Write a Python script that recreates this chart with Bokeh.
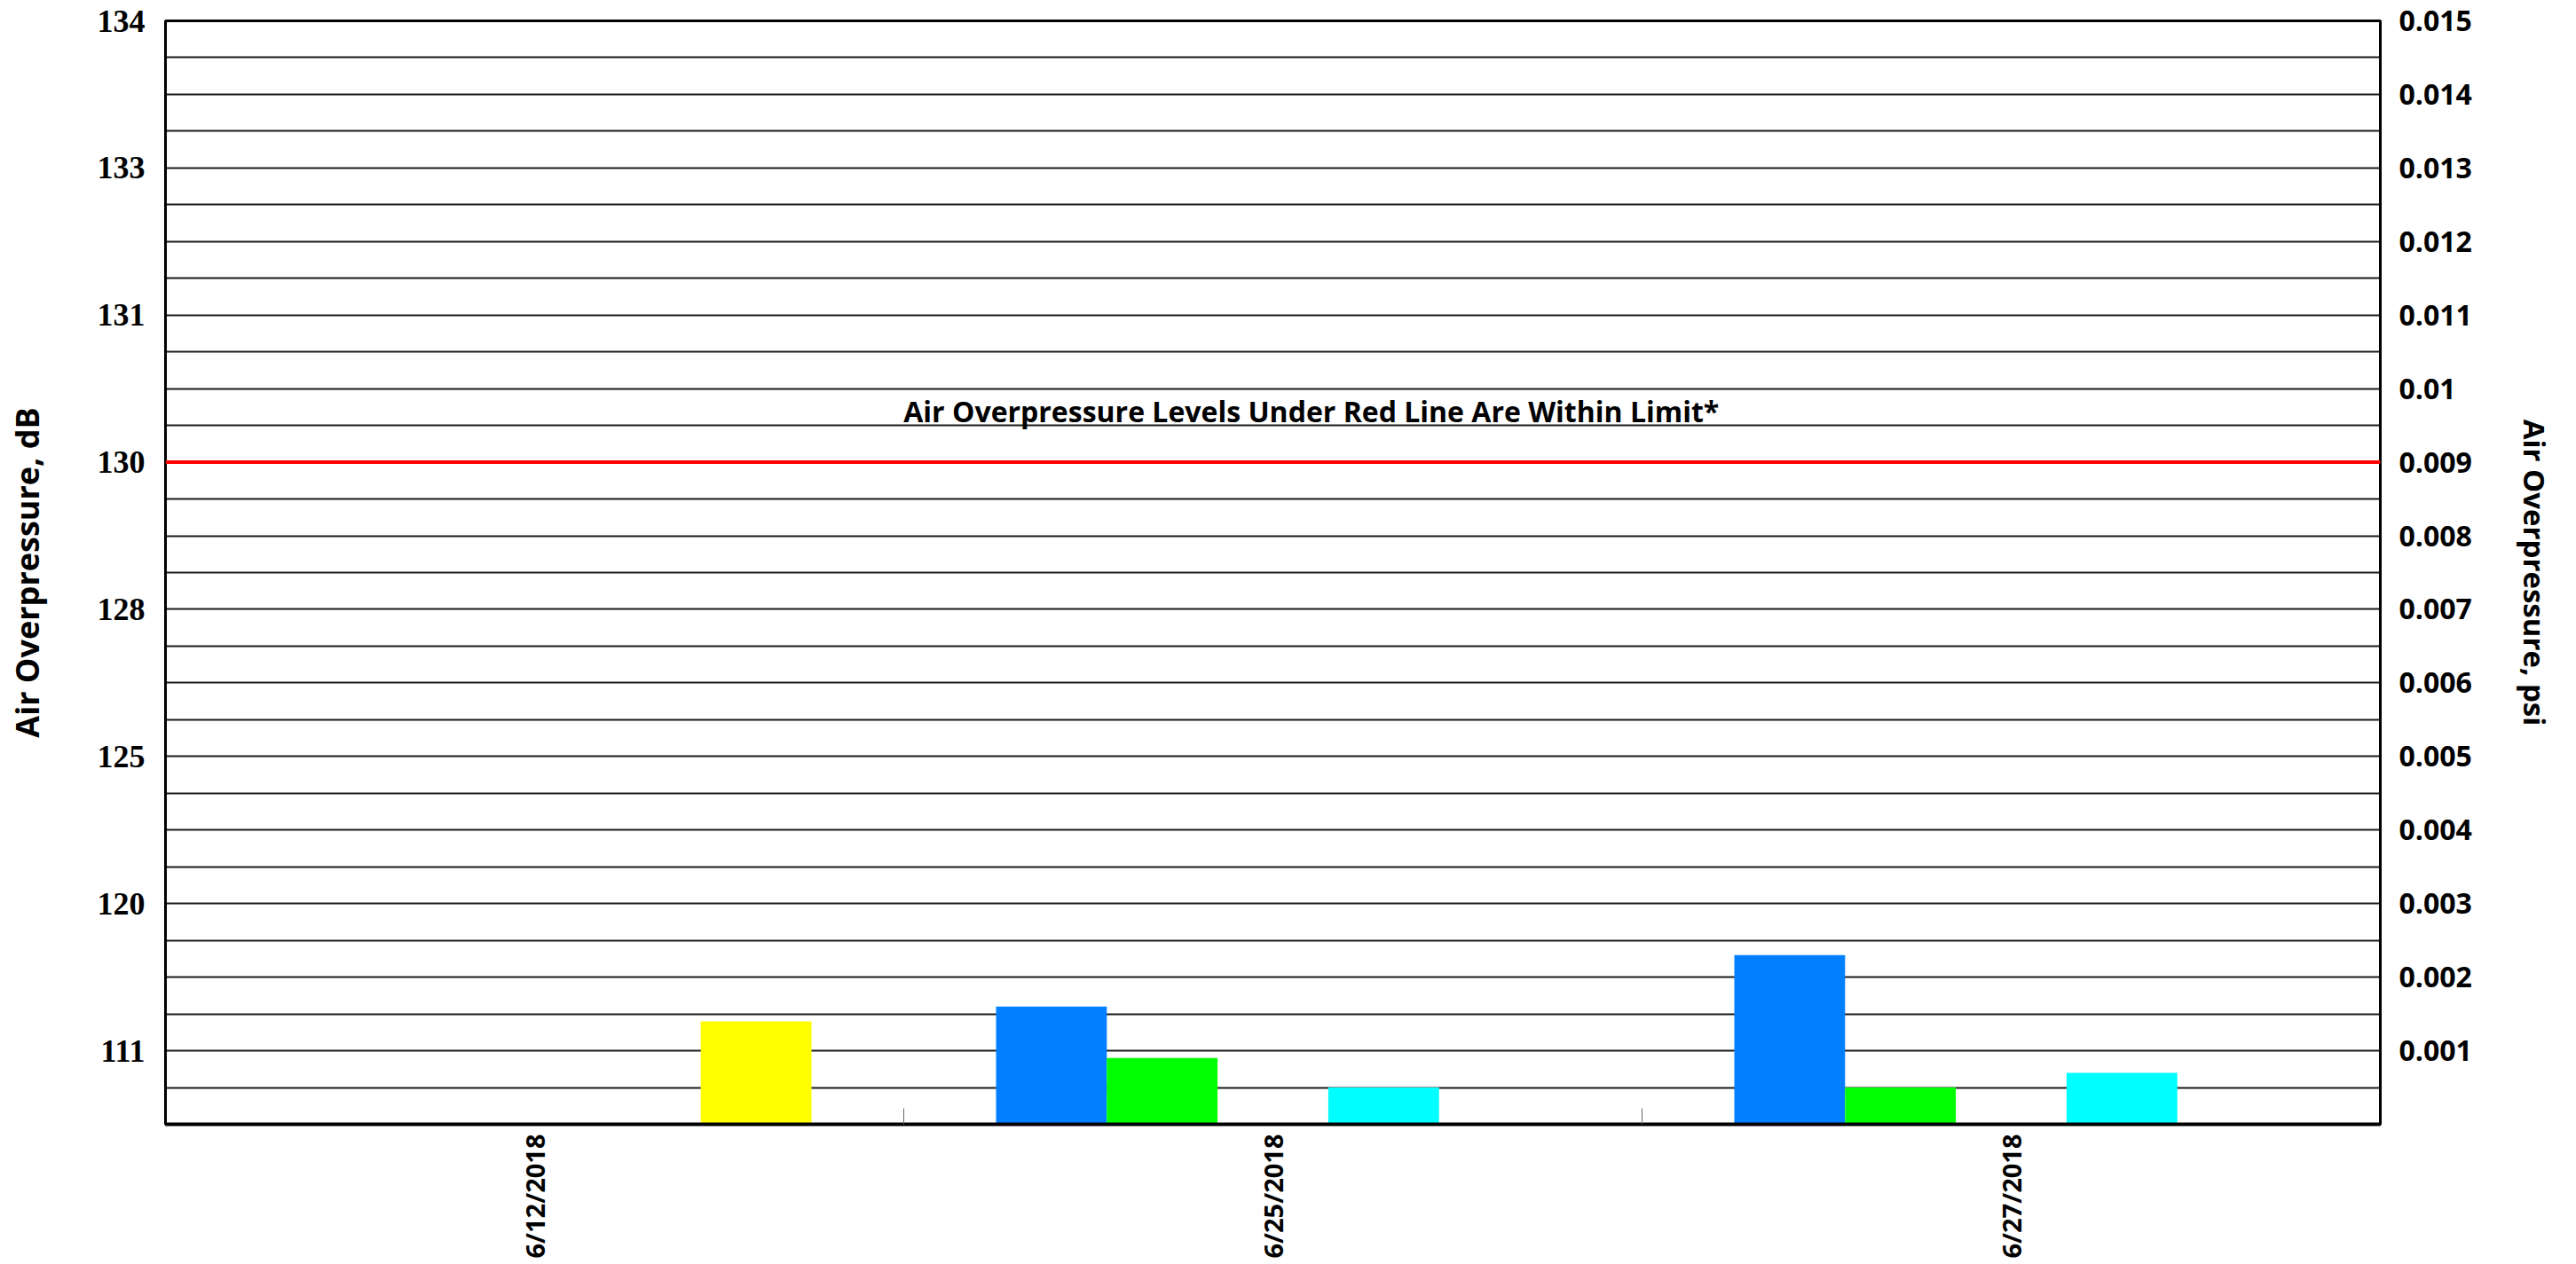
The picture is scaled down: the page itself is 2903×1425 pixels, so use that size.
import math
import numpy as np
from bokeh.plotting import figure
from bokeh.models import ColumnDataSource, Range1d, LinearAxis, FixedTicker, Span, Label
from bokeh.embed import file_html
from bokeh.resources import INLINE

# ---- data (psi) ----
DATES = ["6/12/2018", "6/25/2018", "6/27/2018"]
BLUE_PSI = [None, 0.0016, 0.0023]
GREEN_PSI = [None, 0.0009, 0.0005]
CYAN_PSI = [None, 0.0005, 0.0007]
YELLOW_PSI = [0.0014, None, None]

LIMIT_PSI = 0.009
LIMIT_TEXT = "Air Overpressure Levels Under Red Line Are Within Limit*"

DB_TICK_PSI = [0.001, 0.003, 0.005, 0.007, 0.009, 0.011, 0.013, 0.015]
DB_TICK_LABELS = ["111", "120", "125", "128", "130", "131", "133", "134"]
PSI_TICKS = [0.001, 0.002, 0.003, 0.004, 0.005, 0.006, 0.007, 0.008,
             0.009, 0.010, 0.011, 0.012, 0.013, 0.014, 0.015]
PSI_TICK_LABELS = ["0.001", "0.002", "0.003", "0.004", "0.005", "0.006", "0.007", "0.008",
                   "0.009", "0.01", "0.011", "0.012", "0.013", "0.014", "0.015"]
Y_MAX = 0.015

# ---- layout / style ----
SERIES = [
    (BLUE_PSI, "#007FFF", 0),
    (GREEN_PSI, "#00FF00", 1),
    (CYAN_PSI, "#00FFFF", 3),
    (YELLOW_PSI, "#FFFF00", 4),
]
N_SLOTS = 5
BAR_W = 0.15

p = figure(frame_width=2496, frame_height=1244,
           x_range=Range1d(0, len(DATES)), y_range=Range1d(0, Y_MAX),
           output_backend="svg", toolbar_location=None,
           min_border_left=186, min_border_right=215,
           min_border_top=23, min_border_bottom=150,
           background_fill_color="white", border_fill_color="white")

p.outline_line_color = "black"
p.outline_line_width = 3

for vals, color, slot in SERIES:
    xs, tops = [], []
    for i, v in enumerate(vals):
        if v is not None:
            xs.append(i + 0.5 + (slot - (N_SLOTS - 1) / 2) * BAR_W)
            tops.append(v)
    src = ColumnDataSource(dict(x=xs, top=tops))
    p.vbar(x="x", top="top", bottom=0, width=BAR_W, source=src,
           fill_color=color, line_color=None)

# gridlines every 0.0005 psi
grid_ticks = list(np.round(np.arange(0, Y_MAX + 1e-9, 0.0005), 6))
p.ygrid.ticker = FixedTicker(ticks=grid_ticks)
p.ygrid.grid_line_color = "#1a1a1a"
p.ygrid.grid_line_width = 2
p.xgrid.visible = False

# limit line
p.add_layout(Span(location=LIMIT_PSI, dimension="width", line_color="#FF0000", line_width=4))
p.add_layout(Label(x=1.552, y=0.0097, text=LIMIT_TEXT, text_align="center",
                   text_baseline="middle", text_font="Open Sans",
                   text_font_style="bold", text_font_size="32px", text_color="black"))

# left axis (dB labels)
la = p.yaxis[0]
la.ticker = FixedTicker(ticks=DB_TICK_PSI)
la.major_label_overrides = {k: v for k, v in zip(DB_TICK_PSI, DB_TICK_LABELS)}
la.major_tick_line_color = None
la.minor_tick_line_color = None
la.major_tick_out = 0
la.major_tick_in = 0
la.major_label_standoff = 23
la.major_label_text_font = "Liberation Serif"
la.major_label_text_font_style = "bold"
la.major_label_text_font_size = "36px"
la.major_label_text_color = "black"
la.axis_line_color = "black"
la.axis_line_width = 3
la.axis_label = "Air Overpressure, dB"
la.axis_label_text_font = "Open Sans"
la.axis_label_text_font_style = "bold"
la.axis_label_text_font_size = "36px"
la.axis_label_text_color = "black"
la.axis_label_standoff = 52

# right axis (psi)
ra = LinearAxis()
ra.ticker = FixedTicker(ticks=PSI_TICKS)
ra.major_label_overrides = {k: v for k, v in zip(PSI_TICKS, PSI_TICK_LABELS)}
ra.major_tick_line_color = None
ra.minor_tick_line_color = None
ra.major_tick_out = 0
ra.major_tick_in = 0
ra.major_label_standoff = 21
ra.major_label_text_font = "Open Sans"
ra.major_label_text_font_style = "bold"
ra.major_label_text_font_size = "32px"
ra.major_label_text_color = "black"
ra.axis_line_color = "black"
ra.axis_line_width = 3
ra.axis_label = "Air Overpressure, psi"
ra.axis_label_text_font = "Open Sans"
ra.axis_label_text_font_style = "bold"
ra.axis_label_text_font_size = "33px"
ra.axis_label_text_color = "black"
ra.axis_label_standoff = 45
p.add_layout(ra, "right")

# x axis
centers = [i + 0.5 for i in range(len(DATES))]
bounds = [i for i in range(1, len(DATES))]
xa = p.xaxis[0]
xa.ticker = FixedTicker(ticks=centers, minor_ticks=bounds)
xa.major_label_overrides = {c: d for c, d in zip(centers, DATES)}
xa.major_tick_line_color = None
xa.major_tick_in = 0
xa.major_tick_out = 0
xa.minor_tick_in = 18
xa.minor_tick_out = 0
xa.minor_tick_line_color = "#666666"
xa.minor_tick_line_width = 1
xa.major_label_orientation = math.pi / 2
xa.major_label_standoff = 11
xa.major_label_text_font = "Open Sans"
xa.major_label_text_font_style = "bold"
xa.major_label_text_font_size = "29px"
xa.major_label_text_color = "black"
xa.axis_line_color = "black"
xa.axis_line_width = 4

open("out.html", "w").write(file_html(p, INLINE))
